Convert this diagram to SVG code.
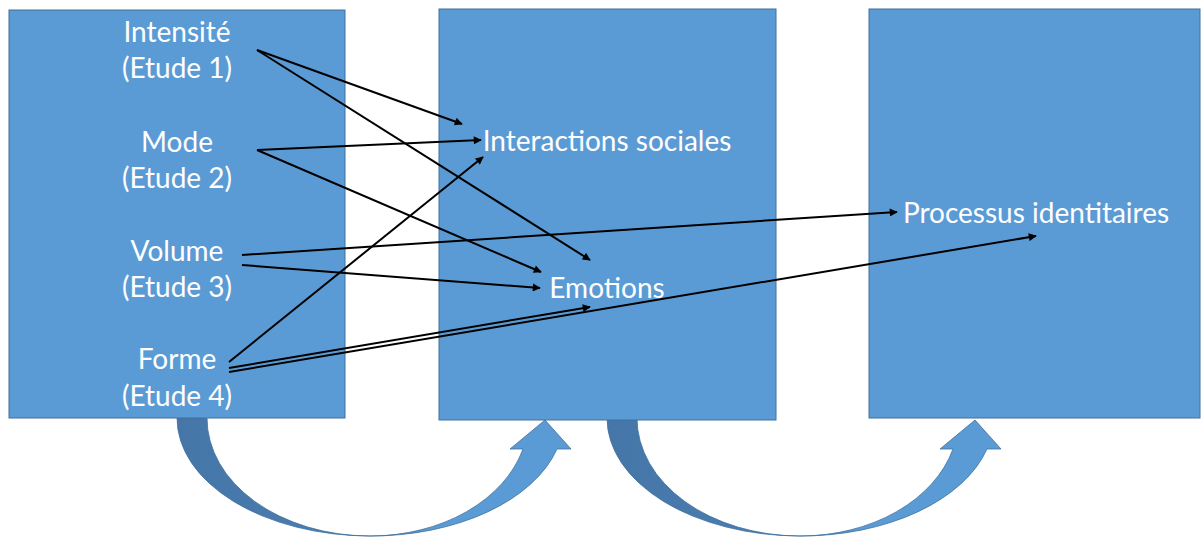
<svg xmlns="http://www.w3.org/2000/svg" width="1201" height="537" viewBox="0 0 1201 537">
<style>
.box{fill:#5B9BD5;stroke:#41719C;stroke-width:1}
.t{font-family:Lato,"Open Sans","Liberation Sans",sans-serif;font-size:28px;fill:#FFFFFF;text-anchor:middle}
.c{stroke:#000;stroke-width:2;fill:none;marker-end:url(#ah)}
.band{stroke:#41719C;stroke-width:0.8}
</style>
<defs>
<marker id="ah" viewBox="0 0 10 10" refX="9" refY="5" markerWidth="4.5" markerHeight="4" orient="auto" markerUnits="strokeWidth">
<path d="M0,0 L10,5 L0,10 z" fill="#000"/>
</marker>
<linearGradient id="dk" x1="0" y1="0" x2="1" y2="0">
<stop offset="0" stop-color="#4676A8"/>
<stop offset="1" stop-color="#4A7EB3"/>
</linearGradient>
</defs>
<g id="bands">
<g id="curve1">
<path class="band" fill="url(#dk)" d="M177,418 A193,118 0 0 0 370,536 A163,118 0 0 1 207,418 Z"/>
<path class="band" fill="#5B9BD5" d="M370,536 A193,118 0 0 0 557,449 L571,449 L545,420 L510,449 L523,449 A158,118 0 0 1 370,536 Z"/>
</g>
<g id="curve2">
<path class="band" fill="url(#dk)" d="M607,418 A193,118 0 0 0 800,536 A163,118 0 0 1 637,418 Z"/>
<path class="band" fill="#5B9BD5" d="M800,536 A193,118 0 0 0 987,449 L1001,449 L975,420 L940,449 L953,449 A158,118 0 0 1 800,536 Z"/>
</g>
</g>
<g id="node1">
<rect class="box" x="9" y="10" width="336" height="408"/>
<text class="t" x="177" y="42">Intensité</text>
<text class="t" x="177" y="78">(Etude 1)</text>
<text class="t" x="177" y="152">Mode</text>
<text class="t" x="177" y="188">(Etude 2)</text>
<text class="t" x="177" y="261">Volume</text>
<text class="t" x="177" y="297">(Etude 3)</text>
<text class="t" x="177" y="369">Forme</text>
<text class="t" x="177" y="406">(Etude 4)</text>
</g>
<g id="node2">
<rect class="box" x="439" y="9" width="337" height="411"/>
<text class="t" x="607" y="151">Interactions sociales</text>
<text class="t" x="607" y="298">Emotions</text>
</g>
<g id="node3">
<rect class="box" x="869" y="9" width="331" height="409"/>
<text class="t" x="1036" y="223">Processus identitaires</text>
</g>
<g id="connectors">
<line class="c" x1="257" y1="50" x2="462" y2="124"/>
<line class="c" x1="257" y1="50" x2="590" y2="260"/>
<line class="c" x1="257" y1="150" x2="481" y2="140"/>
<line class="c" x1="257" y1="150" x2="541" y2="272"/>
<line class="c" x1="242" y1="255" x2="897" y2="212"/>
<line class="c" x1="242" y1="265" x2="540" y2="288"/>
<line class="c" x1="229" y1="362" x2="483" y2="157"/>
<line class="c" x1="229" y1="368" x2="590" y2="307"/>
<line class="c" x1="229" y1="372" x2="1036" y2="236"/>
</g>
</svg>
